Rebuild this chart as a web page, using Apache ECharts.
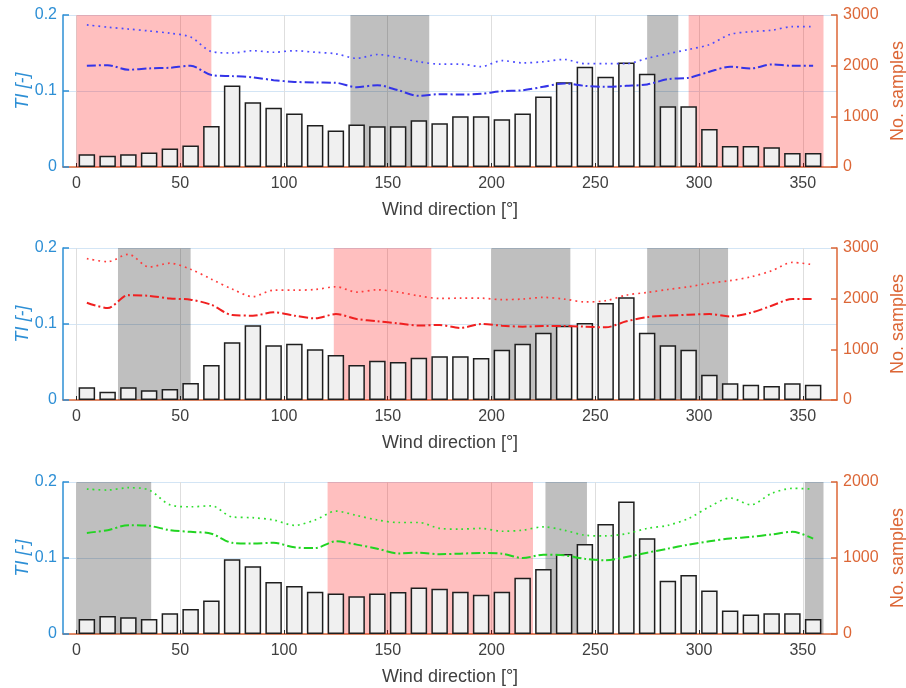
<!DOCTYPE html>
<html>
<head>
<meta charset="utf-8">
<script src="https://cdn.jsdelivr.net/npm/echarts@6/dist/echarts.min.js"></script>
<style>
  html, body { margin: 0; padding: 0; background: #fff; }
  #chart { width: 906px; height: 688px; }
</style>
</head>
<body>
<div id="chart"></div>
<script>
// Wind direction bin centres [deg]
const dirs = [5, 15, 25, 35, 45, 55, 65, 75, 85, 95, 105, 115, 125, 135, 145, 155, 165, 175,
              185, 195, 205, 215, 225, 235, 245, 255, 265, 275, 285, 295, 305, 315, 325, 335, 345, 355];
const dirTicks = [0, 50, 100, 150, 200, 250, 300, 350];

// Number of samples per direction bin
const samples1 = [250, 224, 250, 284, 363, 422, 811, 1609, 1279, 1167, 1055, 831, 719, 837, 804, 804, 923, 864,
                  1002, 1002, 943, 1055, 1391, 1675, 1978, 1780, 2064, 1840, 1200, 1200, 752, 415, 415, 389, 277, 277];
const samples2 = [250, 164, 250, 191, 217, 336, 691, 1138, 1474, 1079, 1112, 1000, 888, 691, 776, 750, 836, 862,
                  862, 829, 993, 1112, 1329, 1467, 1520, 1914, 2026, 1329, 1079, 993, 500, 329, 303, 276, 329, 303];
const samples3 = [198, 238, 220, 198, 273, 330, 441, 982, 890, 683, 630, 555, 533, 498, 533, 551, 612, 595,
                  555, 515, 555, 740, 855, 1053, 1185, 1449, 1744, 1260, 700, 775, 573, 308, 256, 273, 273, 198];

// Turbulence intensity: upper (dotted) and lower (dash-dot) curves
const tiDotted1 = [0.187, 0.184, 0.1815, 0.179, 0.176, 0.171, 0.152, 0.150, 0.153, 0.151, 0.153, 0.151, 0.149, 0.143, 0.148, 0.144, 0.1385, 0.1354,
                   0.1354, 0.132, 0.140, 0.137, 0.1385, 0.1415, 0.136, 0.136, 0.136, 0.143, 0.149, 0.1547, 0.161, 0.1745, 0.178, 0.180, 0.1846, 0.1846];
const tiDashDot1 = [0.1332, 0.134, 0.128, 0.1297, 0.1306, 0.1332, 0.121, 0.1196, 0.118, 0.1143, 0.112, 0.1112, 0.1108, 0.105, 0.1077, 0.101, 0.0936, 0.0958,
                    0.0954, 0.0963, 0.0998, 0.101, 0.1055, 0.110, 0.1068, 0.1055, 0.1068, 0.1086, 0.1156, 0.1174, 0.1253, 0.132, 0.1297, 0.135, 0.1332, 0.1332];
const tiDotted2 = [0.186, 0.182, 0.1917, 0.175, 0.180, 0.172, 0.159, 0.146, 0.136, 0.1445, 0.1445, 0.1454, 0.149, 0.142, 0.145, 0.142, 0.137, 0.1336,
                   0.134, 0.134, 0.132, 0.1328, 0.135, 0.1328, 0.129, 0.1306, 0.138, 0.1415, 0.1454, 0.149, 0.1537, 0.157, 0.162, 0.170, 0.181, 0.178];
const tiDashDot2 = [0.128, 0.121, 0.138, 0.137, 0.1336, 0.132, 0.1253, 0.1118, 0.111, 0.1153, 0.111, 0.1074, 0.113, 0.1066, 0.1035, 0.1009, 0.098, 0.0987,
                    0.0948, 0.100, 0.0978, 0.0965, 0.0974, 0.0974, 0.0965, 0.0956, 0.1035, 0.109, 0.111, 0.1122, 0.113, 0.110, 0.1148, 0.124, 0.1328, 0.1328];
const tiDotted3 = [0.1907, 0.1894, 0.1925, 0.1894, 0.170, 0.1674, 0.1687, 0.154, 0.153, 0.150, 0.143, 0.150, 0.1617, 0.156, 0.150, 0.1467, 0.1467, 0.139,
                   0.138, 0.139, 0.1352, 0.1366, 0.141, 0.1366, 0.130, 0.129, 0.132, 0.139, 0.143, 0.152, 0.1674, 0.179, 0.170, 0.185, 0.1916, 0.1907];
const tiDashDot3 = [0.133, 0.1366, 0.1432, 0.1423, 0.1366, 0.1344, 0.132, 0.120, 0.119, 0.120, 0.114, 0.113, 0.122, 0.1176, 0.1123, 0.106, 0.107, 0.105,
                    0.1057, 0.1066, 0.1057, 0.100, 0.1044, 0.1035, 0.099, 0.0969, 0.1013, 0.107, 0.1123, 0.1176, 0.122, 0.1256, 0.1278, 0.131, 0.1344, 0.1256];

// Highlighted direction sectors [from, to] in degrees
const redSectors1 = [[0, 65], [295, 360]];
const graySectors1 = [[132, 170], [275, 290]];
const redSectors2 = [[124, 171]];
const graySectors2 = [[20, 55], [200, 238], [275, 314]];
const redSectors3 = [[121, 220]];
const graySectors3 = [[0, 36], [226, 246], [351, 360]];

const sampleMax = [3000, 3000, 2000];

const FONT = 'Liberation Sans';
const TICK_SIZE = 16;
const NAME_SIZE = 18;
const BLUE = '#2d8fd5';
const ORANGE = '#dc6636';
const TEXT = '#404040';

const panels = [
  { top: 15,  samples: samples1, dot: tiDotted1, dd: tiDashDot1, red: redSectors1, gray: graySectors1,
    dotColor: '#4c4cff', ddColor: '#3434e8' },
  { top: 248, samples: samples2, dot: tiDotted2, dd: tiDashDot2, red: redSectors2, gray: graySectors2,
    dotColor: '#ff3c3c', ddColor: '#f02020' },
  { top: 482, samples: samples3, dot: tiDotted3, dd: tiDashDot3, red: redSectors3, gray: graySectors3,
    dotColor: '#2fde2f', ddColor: '#22d422' }
];

const grid = [], xAxis = [], yAxis = [], series = [];

panels.forEach((p, i) => {
  grid.push({ left: 63, right: 69, top: p.top, height: 152, outerBoundsMode: 'none', containLabel: false });

  xAxis.push({
    type: 'value', gridIndex: i, min: -6.5, max: 366.5,
    name: 'Wind direction [°]', nameLocation: 'middle', nameGap: 34,
    nameTextStyle: { fontFamily: FONT, fontSize: NAME_SIZE, color: TEXT },
    axisLine: { show: true, onZero: false, lineStyle: { color: ORANGE, width: 1.5 } },
    axisTick: { show: true, inside: true, length: 4, customValues: dirTicks, lineStyle: { color: '#262626' } },
    axisLabel: { customValues: dirTicks, margin: 9, fontFamily: FONT, fontSize: TICK_SIZE, color: TEXT },
    splitLine: { show: true, lineStyle: { color: '#dedede', width: 1 } }
  });

  // left: turbulence intensity
  yAxis.push({
    type: 'value', gridIndex: i, position: 'left', min: 0, max: 0.2, interval: 0.1,
    name: 'TI [-]', nameLocation: 'middle', nameGap: 31, nameRotate: 90, nameMoveOverlap: false,
    nameTextStyle: { fontFamily: FONT, fontSize: NAME_SIZE, color: BLUE, fontStyle: 'italic' },
    axisLine: { show: true, onZero: false, lineStyle: { color: BLUE, width: 1.5 } },
    axisTick: { show: true, inside: true, length: 6, lineStyle: { color: BLUE, width: 1.5 } },
    axisLabel: { margin: 6, fontFamily: FONT, fontSize: TICK_SIZE, color: BLUE,
                 formatter: v => (v === 0 ? '0' : String(+v.toFixed(1))) },
    splitLine: { show: true, lineStyle: { color: '#d3e5f5', width: 1.2 } }
  });

  // right: sample count
  yAxis.push({
    type: 'value', gridIndex: i, position: 'right', min: 0, max: sampleMax[i], interval: 1000,
    name: 'No. samples', nameLocation: 'middle', nameGap: 50, nameRotate: 90,
    nameTextStyle: { fontFamily: FONT, fontSize: NAME_SIZE, color: ORANGE },
    axisLine: { show: true, onZero: false, lineStyle: { color: ORANGE, width: 1.5 } },
    axisTick: { show: true, inside: true, length: 6, lineStyle: { color: ORANGE, width: 1.5 } },
    axisLabel: { margin: 6, fontFamily: FONT, fontSize: TICK_SIZE, color: ORANGE,
                 formatter: v => String(v) },
    splitLine: { show: false }
  });

  const yl = i * 2, yr = i * 2 + 1;

  series.push({
    type: 'bar', xAxisIndex: i, yAxisIndex: yr, z: 1,
    barWidth: 16.5,
    data: dirs.map((d, k) => [d, p.samples[k]]),
    itemStyle: { color: '#f0f0f0', borderColor: '#1e1e1e', borderWidth: 1.5 },
    silent: true
  });

  series.push({
    type: 'line', xAxisIndex: i, yAxisIndex: yl, z: 2,
    data: dirs.map((d, k) => [d, p.dot[k]]),
    smooth: 0.3, symbol: 'none',
    lineStyle: { color: p.dotColor, width: 1.7, type: [1.8, 4] },
    silent: true
  });

  series.push({
    type: 'line', xAxisIndex: i, yAxisIndex: yl, z: 2,
    data: dirs.map((d, k) => [d, p.dd[k]]),
    smooth: 0.3, symbol: 'none',
    lineStyle: { color: p.ddColor, width: 2, type: [9, 3, 2, 3] },
    silent: true
  });

  // translucent sector shading laid over bars and curves
  const areas = []
    .concat(p.red.map(s => [{ xAxis: s[0], itemStyle: { color: 'rgba(255,0,0,0.25)' } }, { xAxis: s[1] }]))
    .concat(p.gray.map(s => [{ xAxis: s[0], itemStyle: { color: 'rgba(0,0,0,0.25)' } }, { xAxis: s[1] }]));
  series.push({
    type: 'line', xAxisIndex: i, yAxisIndex: yl, z: 3,
    data: [[0, 0]], symbol: 'none', lineStyle: { opacity: 0 },
    silent: true,
    markArea: { silent: true, data: areas, label: { show: false } }
  });
});

const chart = echarts.init(document.getElementById('chart'), null, { renderer: 'canvas' });
chart.setOption({
  animation: false,
  backgroundColor: '#ffffff',
  grid, xAxis, yAxis, series
});
</script>
</body>
</html>
